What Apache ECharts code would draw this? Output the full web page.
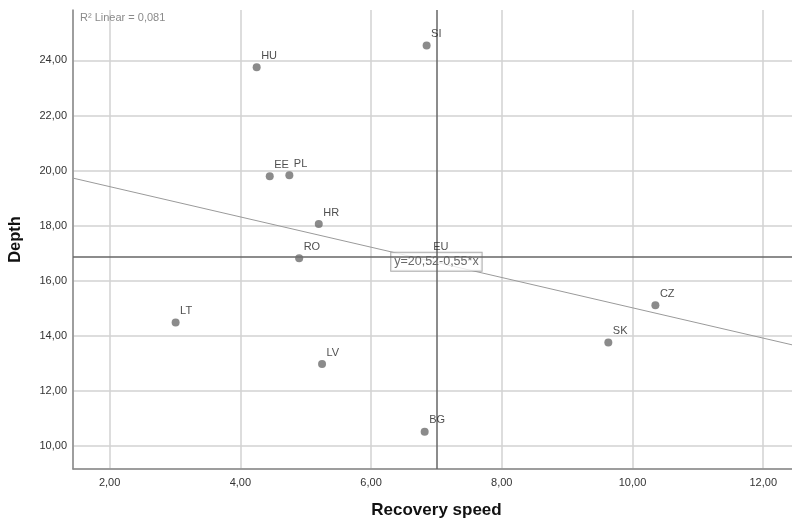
<!DOCTYPE html>
<html>
<head>
<meta charset="utf-8">
<script src="https://cdn.jsdelivr.net/npm/echarts@6/dist/echarts.min.js"></script>
<style>html,body{margin:0;padding:0;background:#fff}#c{width:792px;height:521px}</style>
</head>
<body>
<div id="c"></div>
<script>
const countries = ['HU', 'SI', 'EE', 'PL', 'HR', 'RO', 'LT', 'LV', 'BG', 'SK', 'CZ'];
const recoverySpeed = [4.25, 6.85, 4.45, 4.75, 5.20, 4.90, 3.01, 5.25, 6.82, 9.63, 10.35];
const depth = [23.75, 24.54, 19.80, 19.83, 18.06, 16.82, 14.49, 12.98, 10.52, 13.76, 15.11];
const euLabel = 'EU';
const euPoint = [7.00, 16.87];
const fitCoefficients = [20.52, -0.55]; // intercept, slope
const fitEquation = 'y=20,52-0,55*x';
const rSquaredText = 'R\u00B2 Linear = 0,081';
const xRange = [1.44, 12.44];
const yRange = [9.17, 25.83];

const fmt = v => {
  if (Math.abs(v / 2 - Math.round(v / 2)) > 1e-6) return '';
  return v.toFixed(2).replace('.', ',');
};
const pointData = countries.map((c, i) => ({ name: c, value: [recoverySpeed[i], depth[i]] }));
const fitLine = xRange.map(x => [x, fitCoefficients[0] + fitCoefficients[1] * x]);

const chart = echarts.init(document.getElementById('c'), null, { renderer: 'canvas' });
chart.setOption({
  backgroundColor: '#fff',
  animation: false,
  title: {
    text: rSquaredText, left: 80, top: 12, padding: 0,
    textStyle: { fontFamily: 'Liberation Sans, Arial, sans-serif', fontSize: 11, fontWeight: 'normal', color: '#8a8a8a' }
  },
  grid: { left: 73, right: 0, top: 10, bottom: 52, containLabel: false, outerBoundsMode: 'none' },
  xAxis: {
    type: 'value', min: xRange[0], max: xRange[1], splitNumber: 5,
    name: 'Recovery speed', nameLocation: 'middle', nameGap: 33,
    nameTextStyle: { fontFamily: 'Liberation Sans, Arial, sans-serif', fontSize: 17, fontWeight: 'bold', color: '#111', padding: [0, 0, 0, 8] },
    axisLine: { show: true, lineStyle: { color: '#888', width: 1.5 } },
    axisTick: { show: false },
    axisLabel: { formatter: fmt, margin: 8, fontFamily: 'Liberation Sans, Arial, sans-serif', fontSize: 11, color: '#333' },
    splitLine: { show: true, showMaxLine: false, lineStyle: { color: '#d2d2d2', width: 1.5 } }
  },
  yAxis: {
    type: 'value', min: yRange[0], max: yRange[1], splitNumber: 8,
    name: 'Depth', nameLocation: 'middle', nameGap: 49, nameRotate: 90,
    nameTextStyle: { fontFamily: 'Liberation Sans, Arial, sans-serif', fontSize: 16.5, fontWeight: 'bold', color: '#111' },
    axisLine: { show: true, lineStyle: { color: '#888', width: 1.5 } },
    axisTick: { show: false },
    axisLabel: { formatter: fmt, margin: 6, fontFamily: 'Liberation Sans, Arial, sans-serif', fontSize: 11, color: '#333' },
    splitLine: { show: true, showMaxLine: false, lineStyle: { color: '#d2d2d2', width: 1.5 } }
  },
  series: [
    {
      type: 'line', data: fitLine, symbol: 'none', z: 2, silent: true,
      lineStyle: { color: '#9a9a9a', width: 1 }
    },
    {
      type: 'scatter', data: [euPoint], symbolSize: 0, z: 3, silent: true,
      label: {
        show: true, position: 'inside', offset: [0, 5], formatter: fitEquation,
        fontFamily: 'Liberation Sans, Arial, sans-serif', fontSize: 12.5, color: '#444',
        backgroundColor: '#fff', borderColor: '#999', borderWidth: 1, padding: [3, 3, 2, 3]
      },
      markLine: {
        silent: true, symbol: 'none', z: 4,
        label: { show: false },
        lineStyle: { color: '#666', width: 1.5, type: 'solid' },
        data: [{ xAxis: euPoint[0] }, { yAxis: euPoint[1] }]
      }
    },
    {
      type: 'scatter', data: [{ name: euLabel, value: euPoint }], symbolSize: 0, z: 5, silent: true,
      label: {
        show: true, position: 'top', distance: 4, offset: [4.5, 0], formatter: '{b}',
        fontFamily: 'Liberation Sans, Arial, sans-serif', fontSize: 11, color: '#222'
      }
    },
    {
      type: 'scatter', data: pointData, symbol: 'circle', symbolSize: 8, z: 6,
      itemStyle: { color: '#6e6e6e' },
      label: {
        show: true, position: [8.5, -7.5], align: 'left', verticalAlign: 'middle', formatter: '{b}',
        fontFamily: 'Liberation Sans, Arial, sans-serif', fontSize: 11, color: '#222'
      }
    }
  ]
});
</script>
</body>
</html>
